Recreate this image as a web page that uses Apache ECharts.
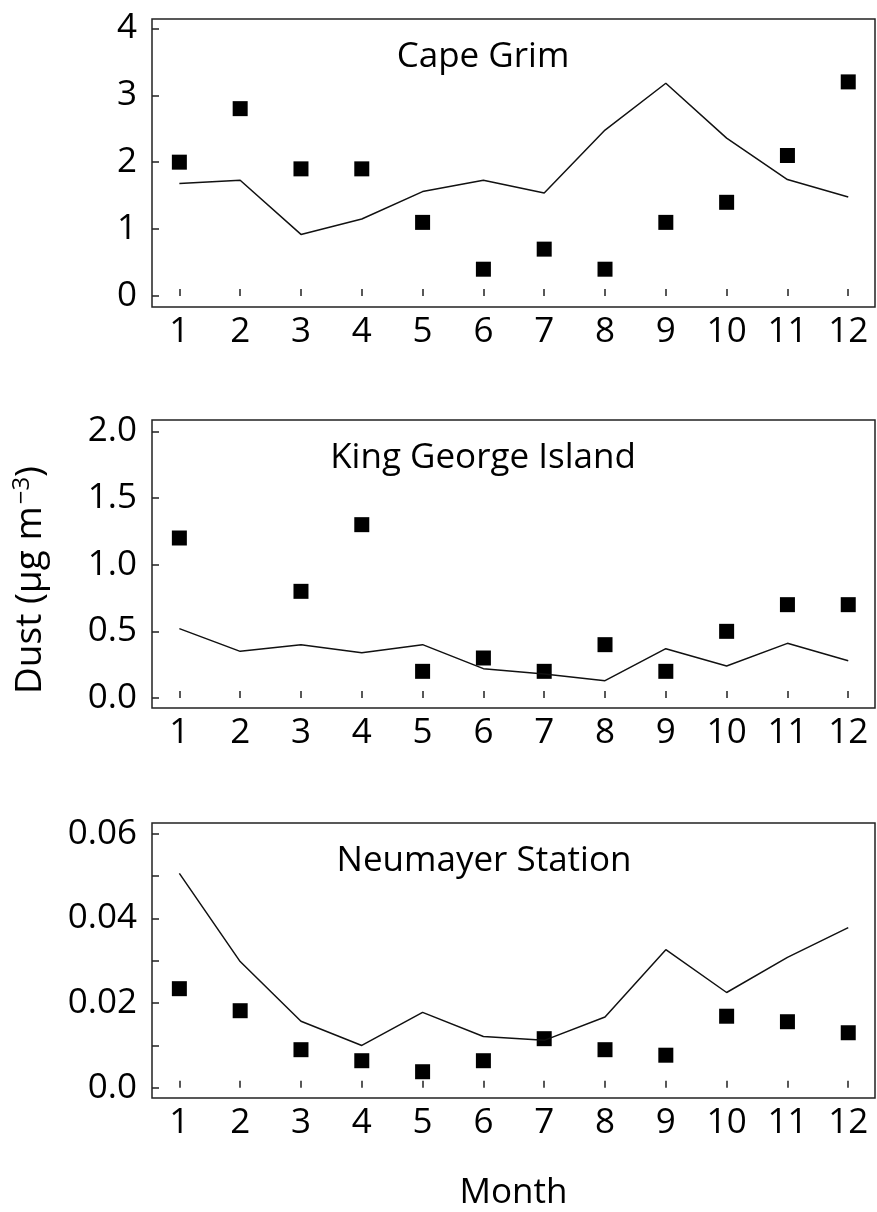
<!DOCTYPE html>
<html>
<head>
<meta charset="utf-8">
<script src="https://cdn.jsdelivr.net/npm/echarts@6/dist/echarts.min.js"></script>
<style>
html, body { margin: 0; padding: 0; background: #fff; }
#chart { width: 877px; height: 1212px; }
</style>
</head>
<body>
<div id="chart"></div>
<script>
// months on the x axis
const months = [1, 2, 3, 4, 5, 6, 7, 8, 9, 10, 11, 12]

// Cape Grim
const capeGrimObs = [2.0, 2.8, 1.9, 1.9, 1.1, 0.4, 0.7, 0.4, 1.1, 1.4, 2.1, 3.2]
const capeGrimModel = [1.68, 1.73, 0.92, 1.15, 1.56, 1.73, 1.54, 2.48, 3.18, 2.36, 1.74, 1.48]
const capeGrimTicks = [0, 1, 2, 3, 4]

// King George Island (no observation for month 2)
const kingGeorgeObs = [1.2, null, 0.8, 1.3, 0.2, 0.3, 0.2, 0.4, 0.2, 0.5, 0.7, 0.7]
const kingGeorgeModel = [0.52, 0.35, 0.40, 0.34, 0.40, 0.22, 0.18, 0.13, 0.37, 0.24, 0.41, 0.28]
const kingGeorgeTicks = [0, 0.5, 1.0, 1.5, 2.0]

// Neumayer Station
const neumayerObs = [0.0234, 0.0182, 0.0090, 0.0064, 0.0038, 0.0064, 0.0116, 0.0090, 0.0077, 0.0169, 0.0156, 0.0130]
const neumayerModel = [0.0506, 0.0298, 0.0157, 0.0100, 0.0178, 0.0121, 0.0112, 0.0167, 0.0326, 0.0225, 0.0308, 0.0378]
const neumayerTicks = [0, 0.02, 0.04, 0.06]
const neumayerMinorTicks = [0, 0.01, 0.02, 0.03, 0.04, 0.05, 0.06]

const FONT = '"Open Sans", "Noto Sans", sans-serif'

const panels = [
  {name: 'Cape Grim', obs: capeGrimObs, model: capeGrimModel, ticks: capeGrimTicks, minor: capeGrimTicks,
    min: -0.165, max: 4.14, fmt: v => v.toFixed(0), top: 19},
  {name: 'King George Island', obs: kingGeorgeObs, model: kingGeorgeModel, ticks: kingGeorgeTicks, minor: kingGeorgeTicks,
    min: -0.075, max: 2.085, fmt: v => v.toFixed(1), top: 420},
  {name: 'Neumayer Station', obs: neumayerObs, model: neumayerModel, ticks: neumayerTicks, minor: neumayerMinorTicks,
    min: -0.0024, max: 0.0625, fmt: v => (v === 0 ? '0.0' : v.toFixed(2)), top: 823}
]

let grid = []
let xAxis = []
let yAxis = []
let series = []

panels.forEach((p, i) => {
  grid.push({
    left: 152,
    right: 2,
    top: p.top,
    height: 288,
    show: true,
    borderColor: '#222',
    borderWidth: 1.5,
    backgroundColor: 'transparent'
  })
  xAxis.push({
    type: 'value',
    gridIndex: i,
    min: 0.55,
    max: 12.44,
    axisLine: {show: false},
    splitLine: {show: false},
    axisTick: {show: true, inside: true, length: 7, customValues: months, lineStyle: {color: '#222', width: 1.5}},
    axisLabel: {customValues: months, color: '#000', fontSize: 35, fontFamily: FONT, margin: 8},
    name: i === 2 ? 'Month' : '',
    nameLocation: 'middle',
    nameGap: 78,
    nameTextStyle: {color: '#000', fontSize: 35, fontFamily: FONT}
  })
  yAxis.push({
    type: 'value',
    gridIndex: i,
    min: p.min,
    max: p.max,
    axisLine: {show: false},
    splitLine: {show: false},
    axisTick: {show: true, inside: true, length: 7, customValues: p.minor, lineStyle: {color: '#222', width: 1.5}},
    axisLabel: {customValues: p.ticks, color: '#000', fontSize: 35, fontFamily: FONT, margin: 15, formatter: p.fmt}
  })
  series.push({
    type: 'line',
    xAxisIndex: i,
    yAxisIndex: i,
    data: months.map((m, k) => [m, p.model[k]]),
    showSymbol: false,
    symbol: 'none',
    lineStyle: {color: '#111', width: 1.5},
    silent: true
  })
  series.push({
    type: 'scatter',
    xAxisIndex: i,
    yAxisIndex: i,
    data: months.map((m, k) => [m, p.obs[k]]).filter(d => d[1] !== null),
    symbol: 'rect',
    symbolSize: 15,
    itemStyle: {color: '#000', opacity: 1},
    silent: true
  })
})

let graphic = [
  {type: 'text', x: 483, y: 57, style: {text: 'Cape Grim', font: '35px ' + FONT, fill: '#000', align: 'center', verticalAlign: 'middle'}},
  {type: 'text', x: 483, y: 458, style: {text: 'King George Island', font: '35px ' + FONT, fill: '#000', align: 'center', verticalAlign: 'middle'}},
  {type: 'text', x: 484, y: 861, style: {text: 'Neumayer Station', font: '35px ' + FONT, fill: '#000', align: 'center', verticalAlign: 'middle'}},
  {
    type: 'text', x: 30, y: 580, rotation: Math.PI / 2,
    style: {
      text: 'Dust (µg m{sup|−3})',
      font: '37px ' + FONT,
      fill: '#000',
      align: 'center',
      verticalAlign: 'middle',
      rich: {sup: {fontSize: 24, fontFamily: FONT, fill: '#000', padding: [0, 0, 16, 2]}}
    }
  }
]

let myChart = echarts.init(document.getElementById('chart'), null, {renderer: 'canvas'})
myChart.setOption({
  animation: false,
  backgroundColor: '#fff',
  grid: grid,
  xAxis: xAxis,
  yAxis: yAxis,
  series: series,
  graphic: graphic
})
</script>
</body>
</html>
